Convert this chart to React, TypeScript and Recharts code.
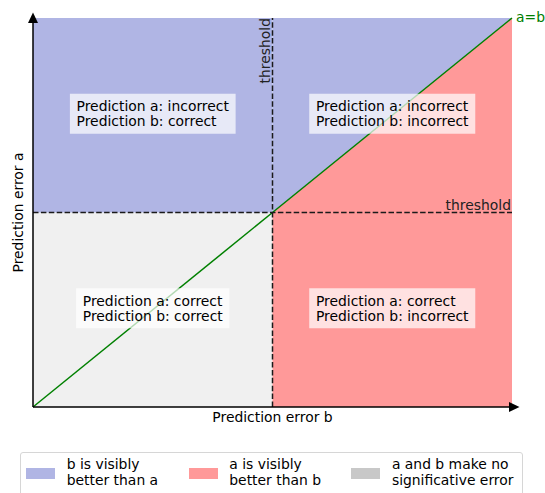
import {
  ComposedChart, Area, Line, XAxis, YAxis, ReferenceArea, ReferenceLine, ReferenceDot,
} from 'recharts'

const FONT = '"DejaVu Sans", sans-serif'
const FS = 13.9

const COLOR = {
  blue: '#b0b5e4',
  red: '#ff9999',
  gray: '#f0f0f0',
  grayPatch: '#c8c8c8',
  diag: '#008000',
  dash: '#1a1a1a',
  axis: '#000000',
}

// ── data ───────────────────────────────────────────────────────
const THRESHOLD = 0.5
const diagX = [0, 0.5, 1]
const diagY = [0, 0.5, 1]
// diagonal only from the threshold on: splits blue / red in the upper right
const splitY = [null, 0.5, 1]

const boxX = [0.25, 0.75, 0.25, 0.75]
const boxY = [0.75, 0.75, 0.25, 0.25]
const boxLines = [
  ['Prediction a: incorrect', 'Prediction b: correct'],
  ['Prediction a: incorrect', 'Prediction b: incorrect'],
  ['Prediction a: correct', 'Prediction b: correct'],
  ['Prediction a: correct', 'Prediction b: incorrect'],
]

const legendLabels = [
  ['b is visibly', 'better than a'],
  ['a is visibly', 'better than b'],
  ['a and b make no', 'significative error'],
]
const legendColors = [COLOR.blue, COLOR.red, COLOR.grayPatch]

const data = diagX.map((x, i) => ({ x, diag: diagY[i], split: splitY[i] }))

// breite eines textes messen (fallback: grobe schätzung)
let ctx: CanvasRenderingContext2D | null = null
function textWidth(s: string) {
  if (!ctx) ctx = document.createElement('canvas').getContext('2d')
  if (!ctx) return s.length * 0.55 * FS
  ctx.font = `${FS}px "DejaVu Sans"`
  return ctx.measureText(s).width
}

// ── shapes ─────────────────────────────────────────────────────
const textBox = (lines: string[]) => (p: any) => {
  const w = Math.max(...lines.map(textWidth)) + 13.4
  const top = p.cy - 1.5 - 20
  const left = p.cx - w / 2
  return (
    <g>
      <rect x={left} y={top} width={w} height={40} fill="#ffffff" fillOpacity={0.7} />
      {lines.map((l, i) => (
        <text key={i} x={left + 6.7} y={top + 17.5 + i * 15.2} fontSize={FS} fontFamily={FONT} fill="#000">{l}</text>
      ))}
    </g>
  )
}

const arrowUp = (p: any) => (
  <polygon points={`${p.cx - 5},${p.cy + 5} ${p.cx + 5},${p.cy + 5} ${p.cx},${p.cy - 5.5}`} fill="#000" />
)
const arrowRight = (p: any) => (
  <polygon points={`${p.cx - 3},${p.cy - 5} ${p.cx - 3},${p.cy + 5} ${p.cx + 7.5},${p.cy}`} fill="#000" />
)
const diagLabel = (p: any) => (
  <text x={p.cx + 4} y={p.cy + 4} fontSize={FS} fontFamily={FONT} fill={COLOR.diag}>a=b</text>
)

function Legend() {
  return (
    <div style={{
      position: 'absolute', left: 20, top: 452, width: 501, height: 50,
      border: '1px solid #d6d6d6', borderRadius: 3, background: '#fff',
      fontFamily: FONT, fontSize: FS, lineHeight: '15.5px', color: '#000',
    }}>
      {legendLabels.map((lines, i) => (
        <div key={i}>
          <span style={{ position: 'absolute', left: 5 + i * 162.6, top: 15.3, width: 29, height: 11, background: legendColors[i] }} />
          <span style={{ position: 'absolute', left: 45.7 + i * 162.6, top: 4.4, whiteSpace: 'nowrap' }}>
            {lines[0]}<br />{lines[1]}
          </span>
        </div>
      ))}
    </div>
  )
}

export default function App() {
  return (
    <div style={{ position: 'absolute', left: 0, top: 0, width: 545, height: 493, overflow: 'hidden', background: '#fff' }}>
      <ComposedChart width={545} height={493} data={data} margin={{ top: 18, right: 33, bottom: 85, left: 32 }}>
        <XAxis
          type="number" dataKey="x" domain={[0, 1]} height={1} tick={false} tickLine={false}
          axisLine={{ stroke: COLOR.axis, strokeWidth: 1.5 }}
          label={{ value: 'Prediction error b', position: 'bottom', offset: 4, fontSize: FS, fontFamily: FONT, fill: '#000' }}
        />
        <YAxis
          type="number" domain={[0, 1]} width={1} tick={false} tickLine={false}
          axisLine={{ stroke: COLOR.axis, strokeWidth: 1.5 }}
          label={{
            content: (props: any) => {
              const vb = props.viewBox
              const x = vb.x - 9
              const y = vb.y + vb.height / 2
              return (
                <text x={x} y={y} transform={`rotate(-90 ${x} ${y})`} textAnchor="middle" fontSize={FS} fontFamily={FONT} fill="#000">
                  Prediction error a
                </text>
              )
            },
          }}
        />
        <ReferenceArea x1={0} x2={THRESHOLD} y1={0} y2={THRESHOLD} fill={COLOR.gray} fillOpacity={1} stroke="none" />
        <ReferenceArea x1={0} x2={THRESHOLD} y1={THRESHOLD} y2={1} fill={COLOR.blue} fillOpacity={1} stroke="none" />
        <Area type="linear" dataKey="split" name="red" fill={COLOR.red} fillOpacity={1} stroke="none" isAnimationActive={false} />
        <Area type="linear" dataKey="split" name="blue" baseValue={1} fill={COLOR.blue} fillOpacity={1} stroke="none" isAnimationActive={false} />
        <Line type="linear" dataKey="diag" stroke={COLOR.diag} strokeWidth={1.5} dot={false} isAnimationActive={false} />
        <ReferenceLine
          x={THRESHOLD} stroke={COLOR.dash} strokeWidth={1.5} strokeDasharray="5.5 2.4"
          label={(props: any) => {
            const vb = props.viewBox
            const x = vb.x - 3
            const y = vb.y
            return (
              <text x={x} y={y} transform={`rotate(-90 ${x} ${y})`} textAnchor="end" fontSize={FS} fontFamily={FONT} fill="#222">
                threshold
              </text>
            )
          }}
        />
        <ReferenceLine
          y={THRESHOLD} stroke={COLOR.dash} strokeWidth={1.5} strokeDasharray="5.5 2.4"
          label={(props: any) => {
            const vb = props.viewBox
            return (
              <text x={vb.x + vb.width - 1} y={vb.y - 3} textAnchor="end" fontSize={FS} fontFamily={FONT} fill="#222">
                threshold
              </text>
            )
          }}
        />
        {boxLines.map((lines, i) => (
          <ReferenceDot key={i} x={boxX[i]} y={boxY[i]} shape={textBox(lines)} ifOverflow="visible" />
        ))}
        <ReferenceDot x={1} y={1} shape={diagLabel} ifOverflow="visible" />
        <ReferenceDot x={0} y={1} shape={arrowUp} ifOverflow="visible" />
        <ReferenceDot x={1} y={0} shape={arrowRight} ifOverflow="visible" />
      </ComposedChart>
      <Legend />
    </div>
  )
}
